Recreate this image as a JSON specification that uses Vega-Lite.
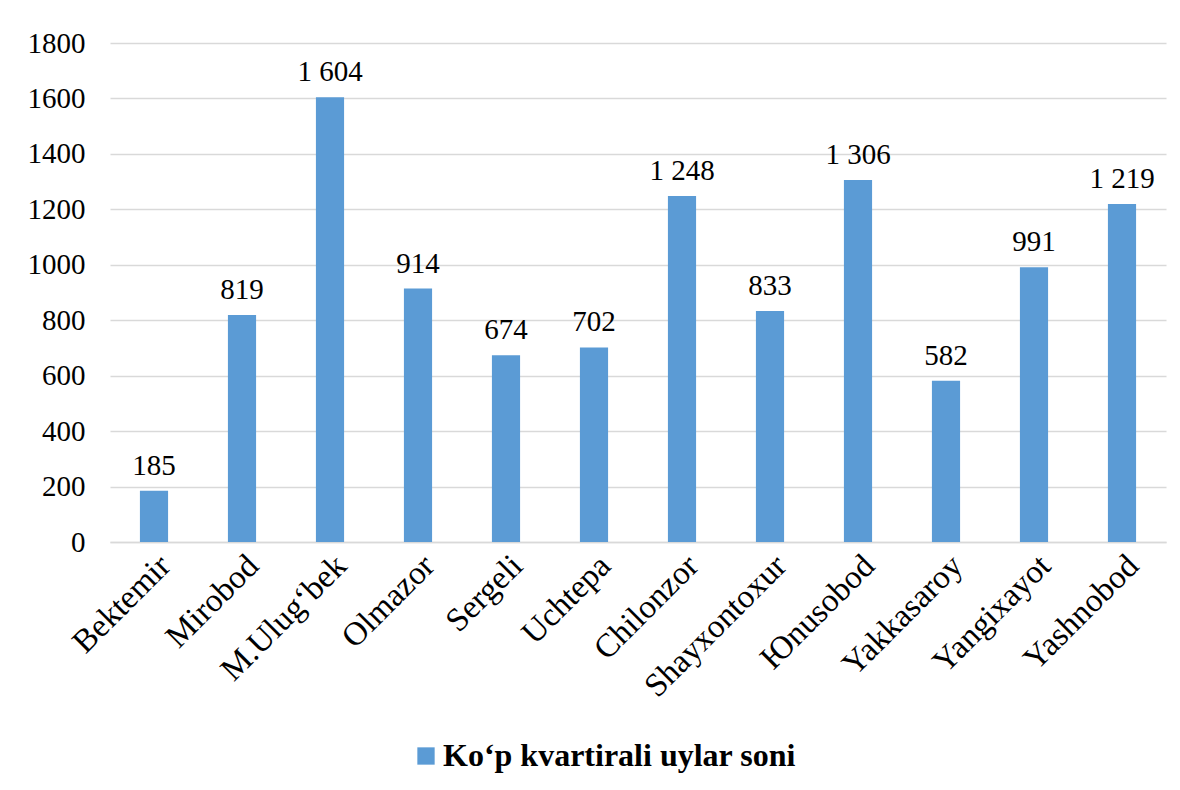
{
  "$schema": "https://vega.github.io/schema/vega-lite/v6.json",
  "width": 1056,
  "height": 499,
  "autosize": "none",
  "padding": {"left": 110, "top": 43, "right": 14, "bottom": 248},
  "background": "white",
  "config": {
    "locale": {"number": {"decimal": ",", "thousands": " ", "grouping": [3], "currency": ["", ""]}},
    "font": "Liberation Serif",
    "view": {"stroke": null}
  },
  "data": {
    "values": [
      {"tuman": "Bektemir", "soni": 185},
      {"tuman": "Mirobod", "soni": 819},
      {"tuman": "M.Ulug‘bek", "soni": 1604},
      {"tuman": "Olmazor", "soni": 914},
      {"tuman": "Sergeli", "soni": 674},
      {"tuman": "Uchtepa", "soni": 702},
      {"tuman": "Chilonzor", "soni": 1248},
      {"tuman": "Shayxontoxur", "soni": 833},
      {"tuman": "Юnusobod", "soni": 1306},
      {"tuman": "Yakkasaroy", "soni": 582},
      {"tuman": "Yangixayot", "soni": 991},
      {"tuman": "Yashnobod", "soni": 1219}
    ]
  },
  "encoding": {
    "x": {
      "field": "tuman", "type": "nominal", "sort": null,
      "scale": {"paddingInner": 0.68, "paddingOuter": 0.34},
      "axis": {
        "title": null, "labelAngle": -45, "labelFont": "Liberation Serif", "labelFontSize": 33,
        "labelColor": "black", "ticks": false, "domainColor": "#d9d9d9", "domainWidth": 1.5,
        "labelPadding": 7, "labelLimit": 400
      }
    },
    "y": {
      "field": "soni", "type": "quantitative",
      "scale": {"domain": [0, 1800], "nice": false},
      "axis": {
        "title": null, "values": [0, 200, 400, 600, 800, 1000, 1200, 1400, 1600, 1800],
        "format": "d", "labelFont": "Liberation Serif", "labelFontSize": 29, "labelColor": "black",
        "ticks": false, "domain": false, "gridColor": "#d9d9d9", "gridWidth": 1.5, "labelPadding": 25
      }
    }
  },
  "layer": [
    {
      "mark": {"type": "bar", "color": "#5b9bd5"},
      "encoding": {
        "color": {
          "datum": "Ko‘p kvartirali uylar soni", "type": "nominal",
          "scale": {"range": ["#5b9bd5"]},
          "legend": {
            "title": null, "orient": "none", "legendX": 300, "legendY": 697,
            "labelFont": "Liberation Serif", "labelFontSize": 32, "labelFontWeight": "bold",
            "labelColor": "black", "symbolType": "square", "symbolSize": 300,
            "symbolStrokeWidth": 0, "labelLimit": 600, "labelOffset": 1
          }
        }
      }
    },
    {
      "mark": {"type": "text", "baseline": "bottom", "dy": -10, "font": "Liberation Serif", "fontSize": 29, "color": "black"},
      "encoding": {"text": {"field": "soni", "type": "quantitative", "format": ",d"}}
    }
  ]
}
